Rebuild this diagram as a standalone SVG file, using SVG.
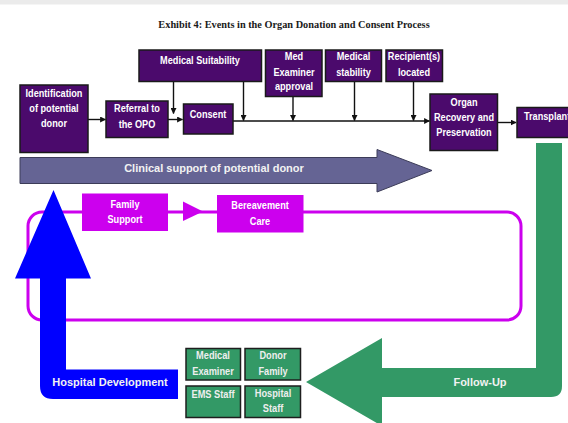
<svg xmlns="http://www.w3.org/2000/svg" width="568" height="423" viewBox="0 0 568 423">
  <style>
    .title { font-family: "Liberation Serif", "Times New Roman", serif; font-size: 10.3px; font-weight: bold; fill: #1a1a1a; }
    .lbl { font-family: "Liberation Sans Narrow", "Arial Narrow", "Liberation Sans", sans-serif; font-size: 11.6px; font-weight: bold; fill: #ffffff; text-anchor: middle;
           transform-box: fill-box; transform-origin: center; transform: scaleX(0.79); }
    .big { font-family: "Liberation Sans", Arial, sans-serif; font-size: 11px; font-weight: bold; fill: #f2f2f2; text-anchor: middle; }
    .sm { font-family: "Liberation Sans Narrow", "Arial Narrow", "Liberation Sans", sans-serif; font-size: 11px; font-weight: bold; fill: #eeeeee; text-anchor: middle;
          transform-box: fill-box; transform-origin: center; transform: scaleX(0.84); }
    .step { fill: #4b0a6c; stroke: #1a1a1a; stroke-width: 1.5; }
    .fam { fill: #cc00ee; }
    .party { fill: #339966; stroke: #1e1e1e; stroke-width: 1.5; }
    .wire { stroke: #111; stroke-width: 1.4; fill: none; }
  </style>
  <defs>
    <marker id="tip" viewBox="0 0 10 10" refX="9" refY="5" markerWidth="6" markerHeight="6" markerUnits="userSpaceOnUse" orient="auto">
      <path d="M0,0 L10,5 L0,10 Z" fill="#111"/>
    </marker>
  </defs>

  <rect x="0" y="0" width="568" height="4.5" fill="#ebebeb"/>
  <text class="title" x="294" y="28" text-anchor="middle">Exhibit 4:  Events in the Organ Donation and Consent Process</text>

  <!-- Large background flows -->
  <g id="clinical-support">
    <path d="M20,157.5 H377 V149.5 L432,170.5 L377,192 V183.5 H20 Z" fill="#656494" stroke="#3c3c58" stroke-width="1"/>
    <text class="big" x="214" y="171.5">Clinical support of potential donor</text>
  </g>

  <g id="family-loop">
    <rect x="28" y="212" width="493" height="108" rx="14" fill="none" stroke="#cc00ee" stroke-width="3"/>
    <path d="M183,201.5 L203,211.5 L183,221 Z" fill="#cc00ee"/>
  </g>

  <g id="follow-up">
    <path d="M536,143 H562 V386 Q562,397 551,397 H382 V426 L306,382 L382,338 V368 H536 Z" fill="#339966"/>
    <text class="big" x="480" y="385.5">Follow-Up</text>
  </g>

  <g id="hospital-development">
    <path d="M53.5,190 L91,278.5 H66 V369.5 H178 V399 H53 Q40,399 40,386 V278.5 H15 Z" fill="#0000ff"/>
    <text class="big" x="110" y="385.5">Hospital Development</text>
  </g>

  <!-- Connectors -->
  <g id="connectors">
    <line class="wire" x1="88" y1="119.5" x2="105.5" y2="119.5" marker-end="url(#tip)"/>
    <line class="wire" x1="168" y1="119.5" x2="182.5" y2="119.5" marker-end="url(#tip)"/>
    <line class="wire" x1="233" y1="121" x2="429.5" y2="121" marker-end="url(#tip)"/>
    <line class="wire" x1="498" y1="122.5" x2="516" y2="122.5" marker-end="url(#tip)"/>
    <line class="wire" x1="173.5" y1="82" x2="173.5" y2="113.5" marker-end="url(#tip)"/>
    <line class="wire" x1="243.5" y1="82" x2="243.5" y2="120.5" marker-end="url(#tip)"/>
    <line class="wire" x1="293" y1="97" x2="293" y2="120.5" marker-end="url(#tip)"/>
    <line class="wire" x1="354.5" y1="82" x2="354.5" y2="120.5" marker-end="url(#tip)"/>
    <line class="wire" x1="413.5" y1="82" x2="413.5" y2="120.5" marker-end="url(#tip)"/>
  </g>

  <!-- Process steps -->
  <g id="identification">
    <rect class="step" x="20" y="85" width="68" height="67.5"/>
    <text class="lbl" x="54" y="97.5">Identification</text>
    <text class="lbl" x="54" y="112">of potential</text>
    <text class="lbl" x="54" y="127.5">donor</text>
  </g>
  <g id="referral">
    <rect class="step" x="106" y="101" width="62" height="36.5"/>
    <text class="lbl" x="137" y="112.5">Referral to</text>
    <text class="lbl" x="137" y="128">the OPO</text>
  </g>
  <g id="consent">
    <rect class="step" x="183.5" y="104" width="49.5" height="30"/>
    <text class="lbl" x="208" y="118">Consent</text>
  </g>
  <g id="medical-suitability">
    <rect class="step" x="139" y="50" width="122.5" height="31.5"/>
    <text class="lbl" x="200" y="64">Medical Suitability</text>
  </g>
  <g id="med-examiner">
    <rect class="step" x="265.5" y="50" width="56.5" height="46.5"/>
    <text class="lbl" x="294" y="60">Med</text>
    <text class="lbl" x="294" y="76">Examiner</text>
    <text class="lbl" x="294" y="90.5">approval</text>
  </g>
  <g id="medical-stability">
    <rect class="step" x="325.5" y="50" width="56" height="31.5"/>
    <text class="lbl" x="353.5" y="60">Medical</text>
    <text class="lbl" x="353.5" y="76">stability</text>
  </g>
  <g id="recipients">
    <rect class="step" x="386" y="50" width="56.5" height="31.5"/>
    <text class="lbl" x="414" y="60">Recipient(s)</text>
    <text class="lbl" x="414" y="76">located</text>
  </g>
  <g id="organ-recovery">
    <rect class="step" x="430" y="94" width="67.5" height="56.5"/>
    <text class="lbl" x="464" y="106">Organ</text>
    <text class="lbl" x="464" y="121.5">Recovery and</text>
    <text class="lbl" x="464" y="136.5">Preservation</text>
  </g>
  <g id="transplant">
    <rect class="step" x="517" y="107.5" width="60" height="30"/>
    <text class="lbl" x="547" y="120">Transplant</text>
  </g>

  <!-- Family care -->
  <g id="family-support">
    <rect class="fam" x="82" y="193.5" width="86" height="37.5"/>
    <text class="lbl" x="125" y="208">Family</text>
    <text class="lbl" x="125" y="223.5">Support</text>
  </g>
  <g id="bereavement-care">
    <rect class="fam" x="217" y="195" width="86.5" height="37.5"/>
    <text class="lbl" x="260" y="209.5">Bereavement</text>
    <text class="lbl" x="260" y="225">Care</text>
  </g>

  <!-- Follow-up parties -->
  <g id="medical-examiner">
    <rect class="party" x="186" y="348.5" width="54.5" height="31.5"/>
    <text class="sm" x="213" y="359.5">Medical</text>
    <text class="sm" x="213" y="375">Examiner</text>
  </g>
  <g id="donor-family">
    <rect class="party" x="245" y="348.5" width="55.5" height="31.5"/>
    <text class="sm" x="273" y="359.5">Donor</text>
    <text class="sm" x="273" y="375">Family</text>
  </g>
  <g id="ems-staff">
    <rect class="party" x="186" y="386" width="54.5" height="31.5"/>
    <text class="sm" x="213" y="398.5">EMS Staff</text>
  </g>
  <g id="hospital-staff">
    <rect class="party" x="245" y="386" width="55.5" height="31.5"/>
    <text class="sm" x="273" y="397.5">Hospital</text>
    <text class="sm" x="273" y="412.5">Staff</text>
  </g>
</svg>
